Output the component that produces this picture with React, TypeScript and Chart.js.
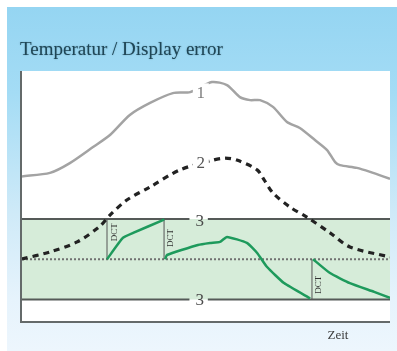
import React, { useEffect, useRef } from "react";
import { Chart, registerables } from "chart.js";
Chart.register(...registerables);

// Time axis (0..100) and value axis (0..100)
const time1 = [0, 7.6, 13, 19.3, 23.9, 29.3, 34.8, 41, 45.7, 51.6, 55.7, 59.2, 62, 64.7, 68.2, 72, 75.5, 79.6, 82.9, 85.1, 86.4, 91, 94.6, 100];
const temp1 = [58, 59.4, 63.3, 69.7, 74.5, 82.5, 87.3, 91.2, 91.6, 95.6, 94.4, 89.6, 88.4, 88.4, 85.7, 79.7, 77.3, 72.5, 68.5, 63.7, 62.5, 61.4, 59.8, 57];

const time2 = [0, 7.6, 15, 21.2, 23.9, 28.5, 34.8, 42.9, 51.9, 55.2, 58.4, 63.9, 65.8, 68.2, 72.8, 77.4, 83.7, 89.1, 100];
const temp2 = [25.1, 27.9, 31.9, 38.2, 42.6, 48.6, 53.8, 60.6, 64.5, 65.3, 64.5, 60.6, 56.6, 51.4, 45.8, 41.8, 35.5, 29.9, 25.9];

const errorTime = [23.1, 27.4, 30.2, 38.3, 38.6, null, 38.9, 39.4, 47.8, 51.1, 53.8, 55.7, 61.1, 63.9, 66.6, 71.2, 78.3, null, 79.1, 83.7, 89.1, 95.7, 100];
const errorVal = [25, 33.5, 35.5, 40.6, 41, null, 25, 26.7, 30.7, 31.5, 31.9, 33.9, 31.5, 27.5, 21.9, 15.5, 9.4, null, 25, 19.5, 15.5, 12, 9.6];

const upperLimit = 41;
const centerLine = 25;
const lowerLimit = 9;
const limitGapStart = 45.5;
const limitGapEnd = 50.5;

const dctTimes = [23.1, 38.6, 78.8];
const dctFrom = [25, 25, 9];
const dctTo = [41, 41, 25];

const titleText = "Temperatur / Display error";
const xLabel = "Zeit";
const dctLabel = "DCT";

const labels = [
  { text: "1", t: 48.6, v: 91.5, color: "#7e7e7e" },
  { text: "2", t: 48.6, v: 63.5, color: "#555" },
  { text: "3", t: 48.3, v: 40.5, color: "#4a4a4a" },
  { text: "3", t: 48.3, v: 9, color: "#4a4a4a" },
];
const dctLabelPos = [
  { t: 25.1, v: 35.8 },
  { t: 40.5, v: 33.5 },
  { t: 80.5, v: 14.8 },
];

const pts = (xs: (number | null)[], ys: (number | null)[]) =>
  xs.map((x, i) => ({ x: x as number, y: ys[i] }));

const limitLine = (v: number) => [
  { x: 0, y: v },
  { x: limitGapStart, y: v },
  { x: (limitGapStart + limitGapEnd) / 2, y: null },
  { x: limitGapEnd, y: v },
  { x: 100, y: v },
];

const dctPoints = () => {
  const out: any[] = [];
  dctTimes.forEach((t, i) => {
    out.push({ x: t, y: dctFrom[i] });
    out.push({ x: t, y: dctTo[i] });
    out.push({ x: t, y: null });
  });
  return out;
};

const decor = {
  id: "decor",
  beforeDraw(chart: any) {
    const { ctx, chartArea } = chart;
    const W = chart.width;
    const H = chart.height;
    ctx.save();
    ctx.fillStyle = "#ffffff";
    ctx.fillRect(0, 0, W, H);
    const g = ctx.createLinearGradient(0, 7, 0, H);
    g.addColorStop(0, "#95d5f2");
    g.addColorStop(0.25, "#a4dcf5");
    g.addColorStop(0.6, "#cfeaf8");
    g.addColorStop(0.85, "#e6f3fc");
    g.addColorStop(1, "#edf6fd");
    ctx.fillStyle = g;
    ctx.fillRect(7, 7, W - 7, H - 7);
    ctx.fillStyle = "#ffffff";
    ctx.fillRect(chartArea.left, chartArea.top, chartArea.right - chartArea.left, chartArea.bottom - chartArea.top);
    ctx.restore();
  },
  afterDatasetsDraw(chart: any) {
    const { ctx, chartArea, scales } = chart;
    const xs = scales.x;
    const ys = scales.y;
    ctx.save();
    // axes
    ctx.strokeStyle = "#646a6a";
    ctx.lineWidth = 2;
    ctx.beginPath();
    ctx.moveTo(chartArea.left - 1, chartArea.top);
    ctx.lineTo(chartArea.left - 1, chartArea.bottom);
    ctx.lineTo(chartArea.right, chartArea.bottom);
    ctx.stroke();

    // curve labels
    ctx.textAlign = "center";
    ctx.textBaseline = "middle";
    labels.forEach((l, i) => {
      const px = xs.getPixelForValue(l.t);
      const py = ys.getPixelForValue(l.v);
      if (i < 2) {
        ctx.fillStyle = "#ffffff";
        ctx.fillRect(px - 8, py - 9, 16, 18);
      }
      ctx.font = "17px 'Liberation Serif', serif";
      ctx.fillStyle = l.color;
      ctx.fillText(l.text, px, py + 1);
    });

    // DCT labels
    ctx.font = "9px 'Liberation Serif', serif";
    ctx.fillStyle = "#333";
    dctLabelPos.forEach((p) => {
      const px = xs.getPixelForValue(p.t);
      const py = ys.getPixelForValue(p.v);
      ctx.save();
      ctx.translate(px, py);
      ctx.rotate(-Math.PI / 2);
      ctx.fillText(dctLabel, 0, 0);
      ctx.restore();
    });

    // title
    ctx.textAlign = "left";
    ctx.textBaseline = "alphabetic";
    ctx.font = "19px 'Liberation Serif', serif";
    ctx.fillStyle = "#1f4656";
    ctx.shadowColor = "rgba(30,70,86,0.45)";
    ctx.shadowBlur = 1.5;
    ctx.fillText(titleText, 20, 55);
    ctx.shadowBlur = 0;
    ctx.shadowColor = "rgba(0,0,0,0)";

    // x label
    ctx.textAlign = "center";
    ctx.textBaseline = "middle";
    ctx.font = "13px 'Liberation Serif', serif";
    ctx.fillStyle = "#3c3c3c";
    ctx.fillText(xLabel, 338, 336);
    ctx.restore();
  },
};

export default function App() {
  const ref = useRef<HTMLCanvasElement>(null);
  useEffect(() => {
    if (!ref.current) return;
    const chart = new Chart(ref.current, {
      type: "line",
      data: {
        datasets: [
          {
            label: "band",
            data: [{ x: 0, y: upperLimit }, { x: 100, y: upperLimit }],
            borderWidth: 0,
            borderColor: "rgba(0,0,0,0)",
            backgroundColor: "#d6ecd9",
            fill: { value: lowerLimit },
            order: 10,
          } as any,
          {
            label: "upper",
            data: limitLine(upperLimit),
            borderColor: "#555a58",
            borderWidth: 2,
            fill: false,
            order: 9,
          },
          {
            label: "lower",
            data: limitLine(lowerLimit),
            borderColor: "#555a58",
            borderWidth: 2,
            fill: false,
            order: 9,
          },
          {
            label: "center",
            data: [{ x: 0, y: centerLine }, { x: 100, y: centerLine }],
            borderColor: "#707070",
            borderWidth: 2,
            borderDash: [2, 2],
            fill: false,
            order: 8,
          },
          {
            label: "dct",
            data: dctPoints(),
            borderColor: "#555",
            borderWidth: 1,
            fill: false,
            order: 7,
          },
          {
            label: "1",
            data: pts(time1, temp1),
            borderColor: "#a3a3a3",
            borderWidth: 2.5,
            tension: 0.25,
            fill: false,
            order: 5,
          },
          {
            label: "2",
            data: pts(time2, temp2),
            borderColor: "#222",
            borderWidth: 3.2,
            borderDash: [6, 5],
            tension: 0.3,
            fill: false,
            order: 4,
          },
          {
            label: "error",
            data: errorTime
              .map((x, i) => ({ x: x === null ? (errorTime[i - 1] as number) : x, y: errorVal[i] })),
            borderColor: "#1e9a5c",
            borderWidth: 2.5,
            tension: 0.15,
            fill: false,
            order: 3,
          },
        ],
      },
      options: {
        animation: false,
        responsive: false,
        spanGaps: false,
        layout: { padding: { left: 22, top: 71, right: 7, bottom: 29 } },
        elements: { point: { radius: 0 } },
        plugins: { legend: { display: false }, tooltip: { enabled: false } },
        scales: {
          x: { type: "linear", min: 0, max: 100, display: false },
          y: { type: "linear", min: 0, max: 100, display: false },
        },
      },
      plugins: [decor],
    });
    return () => chart.destroy();
  }, []);
  return (
    <div style={{ position: "fixed", left: 0, top: 0, width: 397, height: 351 }}>
      <canvas ref={ref} width={397} height={351} style={{ width: 397, height: 351, display: "block" }} />
    </div>
  );
}
